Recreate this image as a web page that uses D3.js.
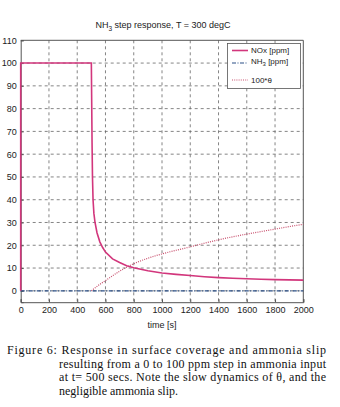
<!DOCTYPE html>
<html><head><meta charset="utf-8">
<script src="https://cdn.jsdelivr.net/npm/d3@7"></script>
<style>
html,body{margin:0;padding:0;background:#fff;}
svg{display:block;}
</style></head>
<body>
<svg id="c" width="340" height="407"></svg>
<script>
// ---- data ----
const xTicks = [0,200,400,600,800,1000,1200,1400,1600,1800,2000];
const yTicks = [0,10,20,30,40,50,60,70,80,90,100,110];
const noxT = [0,0,500,502,505,508,512,518,526,540,560,580,600,650,700,750,800,900,1000,1100,1200,1300,1400,1500,1600,1700,1800,1900,2000];
const noxV = [0,100,100,86,65,50,40,34,30,25.5,21.5,19,17,14,12.4,11,10.1,8.8,7.8,7.2,6.7,6.2,5.8,5.5,5.3,5.1,4.9,4.8,4.7];
const nh3T = [0,2000];
const nh3V = [0,0];
const thetaT = [500,520,550,600,650,700,750,800,900,1000,1100,1200,1300,1400,1500,1600,1700,1800,1900,2000];
const thetaV = [0,1.0,2.4,4.5,6.6,8.6,10.4,11.9,14.3,16.2,17.8,19.3,20.9,22.4,23.7,24.9,26,27.1,28.2,29.2];
const legendLabels = ["NOx [ppm]","NH3 [ppm]","100*θ"];
const captionLines = [
 "Figure 6: Response in surface coverage and ammonia slip",
 "resulting from a 0 to 100 ppm step in ammonia input",
 "at t= 500 secs. Note the slow dynamics of θ, and the",
 "negligible ammonia slip."
];

const svg = d3.select("#c");
const x = d3.scaleLinear().domain([0,2000]).range([20.7,303.3]);
const y = d3.scaleLinear().domain([-5,110]).range([302.2,40.3]);
const sans = "'Liberation Sans', Arial, sans-serif";
const serif = "'Liberation Serif', 'Times New Roman', serif";

// grid
const g = svg.append("g");
g.selectAll("line.vg").data(xTicks.slice(1,-1)).join("line")
 .attr("x1",d=>x(d)).attr("x2",d=>x(d)).attr("y1",y(110)).attr("y2",y(-5))
 .attr("stroke","#666").attr("stroke-width",0.8).attr("stroke-dasharray","3,3");
g.selectAll("line.hg").data(yTicks.slice(0,-1)).join("line")
 .attr("x1",x(0)).attr("x2",x(2000)).attr("y1",d=>y(d)).attr("y2",d=>y(d))
 .attr("stroke","#666").attr("stroke-width",0.8).attr("stroke-dasharray","3,3");

// axes
const ax = d3.axisBottom(x).tickValues(xTicks).tickFormat(d3.format("d")).tickSize(-3).tickPadding(6);
const gx = svg.append("g").attr("transform",`translate(0,${y(-5)})`).call(ax);
const ay = d3.axisLeft(y).tickValues(yTicks).tickFormat(d3.format("d")).tickSize(-3).tickPadding(4);
const gy = svg.append("g").attr("transform",`translate(${x(0)},0)`).call(ay);
[gx,gy].forEach(a=>{
  a.select(".domain").attr("stroke","#555");
  a.selectAll(".tick line").attr("stroke","#555");
  a.selectAll("text").attr("font-family",sans).attr("font-size",9).attr("fill","#222");
});
gx.selectAll("text").attr("dy","0.5em");
// top and right border
svg.append("line").attr("x1",x(0)).attr("x2",x(2000)).attr("y1",y(110)).attr("y2",y(110)).attr("stroke","#555");
svg.append("line").attr("x1",x(2000)).attr("x2",x(2000)).attr("y1",y(110)).attr("y2",y(-5)).attr("stroke","#555");

// lines
const line = d3.line().x(d=>x(d[0])).y(d=>y(d[1]));
const nh3 = nh3T.map((t,i)=>[t,nh3V[i]]);
const nox = noxT.map((t,i)=>[t,noxV[i]]);
const theta = thetaT.map((t,i)=>[t,thetaV[i]]);
const lineStyles = [
  {color:"#d2367c", dash:null, w:1.6},
  {color:"#2b4f86", dash:"4,1.5,1,1.5", w:1.2},
  {color:"#c8506e", dash:"1,1.2", w:1.2}
];
svg.append("path").datum(nh3).attr("d",line).attr("fill","none")
 .attr("stroke",lineStyles[1].color).attr("stroke-width",lineStyles[1].w).attr("stroke-dasharray",lineStyles[1].dash);
svg.append("path").datum(theta).attr("d",d3.line().x(d=>x(d[0])).y(d=>y(d[1])).curve(d3.curveMonotoneX)).attr("fill","none")
 .attr("stroke",lineStyles[2].color).attr("stroke-width",lineStyles[2].w).attr("stroke-dasharray",lineStyles[2].dash);
svg.append("path").datum(nox).attr("d",line).attr("fill","none")
 .attr("stroke",lineStyles[0].color).attr("stroke-width",lineStyles[0].w);

// title
const title = svg.append("text").attr("x",163).attr("y",28).attr("text-anchor","middle")
 .attr("font-family",sans).attr("font-size",9).attr("fill","#222");
title.append("tspan").text("NH");
title.append("tspan").attr("font-size",6.5).attr("dy",2.5).text("3");
title.append("tspan").attr("dy",-2.5).text(" step response, T = 300 degC");

// legend
const lg = svg.append("g");
lg.append("rect").attr("x",227.5).attr("y",43.5).attr("width",73).attr("height",45)
 .attr("fill","#fff").attr("stroke","#555").attr("stroke-width",0.8);
const ly = [50.5,63,80];
const lty = [53.3,64,83];
legendLabels.forEach((lab,i)=>{
  lg.append("line").attr("x1",232).attr("x2",248).attr("y1",ly[i]).attr("y2",ly[i])
   .attr("stroke",lineStyles[i].color).attr("stroke-width",lineStyles[i].w)
   .attr("stroke-dasharray",lineStyles[i].dash);
  const t = lg.append("text").attr("x",251).attr("y",lty[i]).attr("font-family",sans)
   .attr("font-size",8).attr("fill","#222");
  if(i===1){
    t.append("tspan").text("NH");
    t.append("tspan").attr("font-size",6).attr("dy",2).text("3");
    t.append("tspan").attr("dy",-2).text(" [ppm]");
  } else t.text(lab);
});

// x label
svg.append("text").attr("x",162).attr("y",328).attr("text-anchor","middle")
 .attr("font-family",sans).attr("font-size",9).attr("fill","#222").text("time [s]");

// caption
const capY = [354,367.5,381,394.5];
const capX = [7,59,59,59];
const capW = [319,267,267,null];
captionLines.forEach((s,i)=>{
  const t = svg.append("text").attr("x",capX[i]).attr("y",capY[i])
   .attr("font-family",serif).attr("font-size",12).attr("fill","#111").text(s);
  if(capW[i]) t.attr("textLength",capW[i]).attr("lengthAdjust","spacing");
});
</script>
</body></html>
